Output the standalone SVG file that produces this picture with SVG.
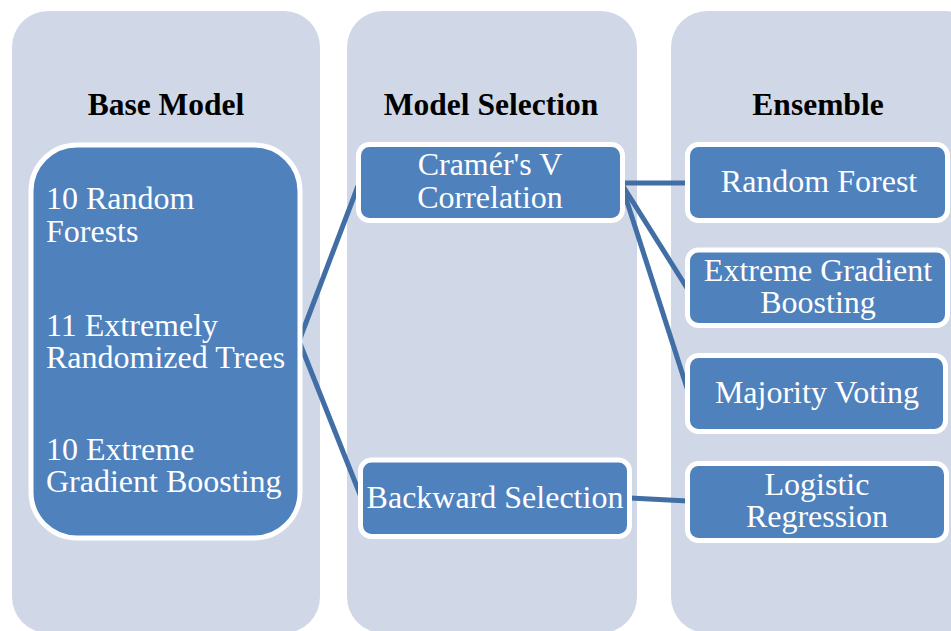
<svg xmlns="http://www.w3.org/2000/svg" width="951" height="631" viewBox="0 0 951 631">
<style>
.panel{fill:#d0d8e8}
.box{fill:#4f81bd;stroke:#ffffff;stroke-width:5}
.hdr{font-family:"Liberation Serif","Times New Roman",serif;font-weight:bold;font-size:31.5px;fill:#000000;text-anchor:middle}
.t{font-family:"Liberation Serif","Times New Roman",serif;font-size:32px;fill:#ffffff}
.c{text-anchor:middle}
.conn{stroke:#416ea5;stroke-width:5;fill:none;stroke-linecap:butt}
</style>
<rect width="951" height="631" fill="#ffffff"/>
<g id="panels">
<rect class="panel" x="12" y="11" width="308" height="622" rx="36"/>
<rect class="panel" x="347" y="11" width="290" height="622" rx="36"/>
<rect class="panel" x="671" y="11" width="310" height="622" rx="36"/>
<text class="hdr" x="166" y="115">Base Model</text>
<text class="hdr" x="491" y="115">Model Selection</text>
<text class="hdr" x="818" y="115">Ensemble</text>
</g>
<g id="connectors">
<line class="conn" x1="299" y1="341" x2="358" y2="186"/>
<line class="conn" x1="299" y1="341" x2="361" y2="497"/>
<line class="conn" x1="621" y1="183" x2="688" y2="183"/>
<line class="conn" x1="621" y1="183" x2="687" y2="288"/>
<line class="conn" x1="621" y1="183" x2="687" y2="388"/>
<line class="conn" x1="630" y1="498" x2="688" y2="501"/>
</g>
<g id="base-model">
<rect class="box" x="31" y="145" width="269" height="393" rx="46"/>
<text class="t" x="46" y="209">10 Random</text>
<text class="t" x="46" y="242">Forests</text>
<text class="t" x="46" y="336">11 Extremely</text>
<text class="t" x="46" y="368">Randomized Trees</text>
<text class="t" x="46" y="460">10 Extreme</text>
<text class="t" x="46" y="492">Gradient Boosting</text>
</g>
<g id="cramers-v">
<rect class="box" x="358.5" y="144.5" width="264" height="76" rx="11"/>
<text class="t c" x="490" y="175">Cramér's V</text>
<text class="t c" x="490" y="208">Correlation</text>
</g>
<g id="backward-selection">
<rect class="box" x="360.5" y="460" width="269" height="76.5" rx="11"/>
<text class="t c" x="495" y="508">Backward Selection</text>
</g>
<g id="random-forest">
<rect class="box" x="687.5" y="144.5" width="260" height="76" rx="11"/>
<text class="t c" x="819" y="192">Random Forest</text>
</g>
<g id="extreme-gradient-boosting">
<rect class="box" x="687.5" y="250" width="260" height="75.5" rx="11"/>
<text class="t c" x="818" y="281">Extreme Gradient</text>
<text class="t c" x="818" y="313">Boosting</text>
</g>
<g id="majority-voting">
<rect class="box" x="687.5" y="355.5" width="258" height="76" rx="11"/>
<text class="t c" x="817" y="403">Majority Voting</text>
</g>
<g id="logistic-regression">
<rect class="box" x="687.5" y="463.5" width="259" height="77" rx="11"/>
<text class="t c" x="817" y="495">Logistic</text>
<text class="t c" x="817" y="527">Regression</text>
</g>
</svg>
